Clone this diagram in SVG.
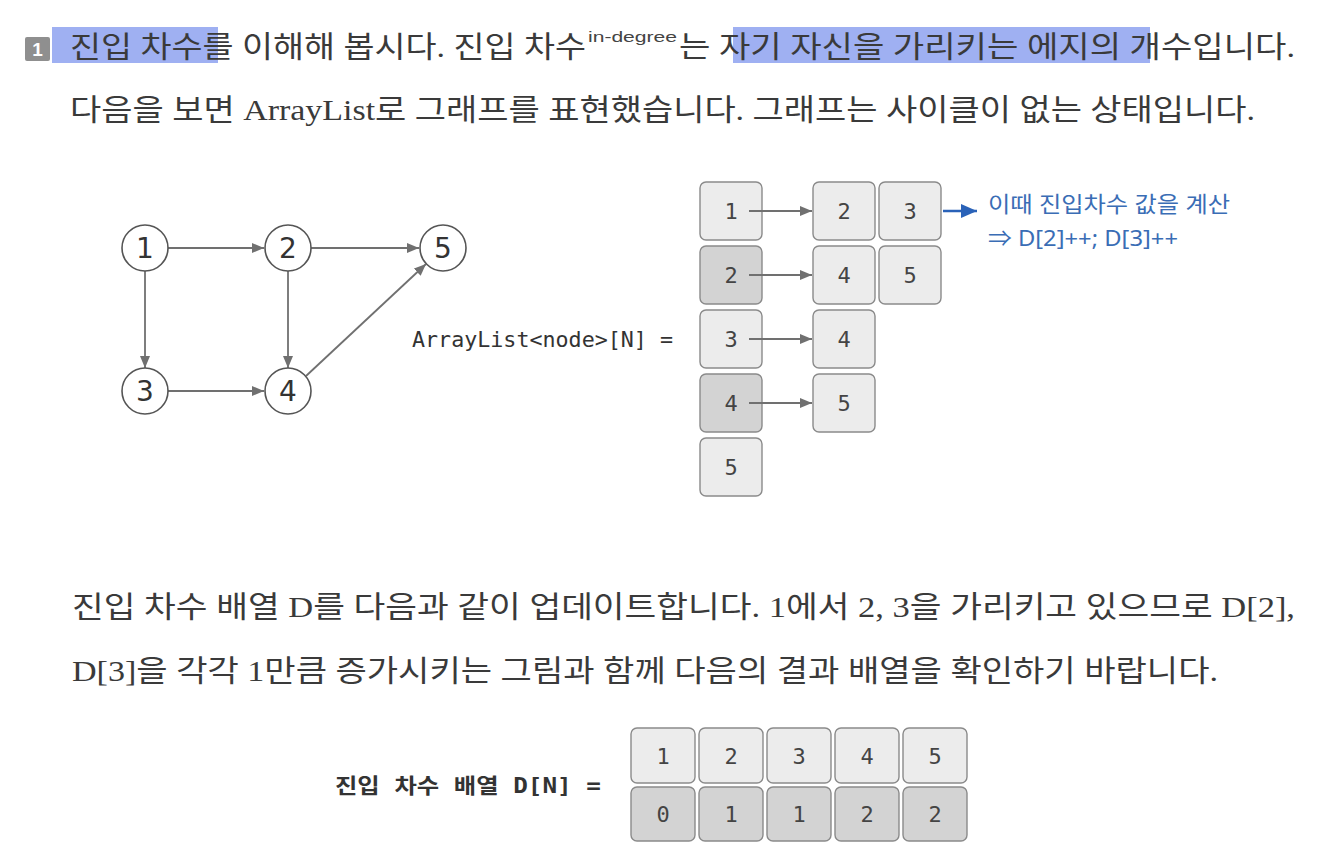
<svg xmlns="http://www.w3.org/2000/svg" width="1328" height="858" viewBox="0 0 1328 858">
<style>
.body{font-family:"Liberation Serif","Noto Sans CJK KR",serif;font-size:30px;fill:#3a3a3a}
.node circle{fill:#fff;stroke:#555;stroke-width:1.6}
.node text{font-family:"DejaVu Sans","Noto Sans",sans-serif;font-size:28px;fill:#333;text-anchor:middle}
.edge{stroke:#707070;stroke-width:1.8;fill:none}
.cell rect{stroke:#8a8a8a;stroke-width:1.4;rx:6}
.cell text{font-family:"DejaVu Sans Mono",monospace;font-size:22px;fill:#444;text-anchor:middle}
.lt{fill:#ececec}
.dk{fill:#d3d3d3}
.mono{font-family:"DejaVu Sans Mono","Noto Sans CJK KR",monospace;font-size:21px;fill:#333}
.blue{font-family:"Noto Sans","Noto Sans CJK KR",sans-serif;font-size:22px;fill:#3a6db5}
</style>
<defs>
<marker id="ah" viewBox="0 0 12 10" refX="12" refY="5" markerWidth="12" markerHeight="10" markerUnits="userSpaceOnUse" orient="auto">
<path d="M0,0 L12,5 L0,10 z" fill="#707070"/>
</marker>
<marker id="ahb" viewBox="0 0 16 14" refX="16" refY="7" markerWidth="16" markerHeight="14" markerUnits="userSpaceOnUse" orient="auto">
<path d="M0,0 L16,7 L0,14 z" fill="#2a62b8"/>
</marker>
</defs>
<rect width="1328" height="858" fill="#fff"/>

<!-- header text -->
<g id="header">
<rect x="25" y="37" width="25" height="24" rx="2" fill="#8f8f8f"/>
<text x="37.5" y="56" font-family="Liberation Sans,sans-serif" font-size="19" font-weight="bold" fill="#fff" text-anchor="middle">1</text>
<rect x="52" y="27" width="166" height="36" fill="#7f96ee" fill-opacity="0.75"/>
<rect x="733" y="27" width="417" height="36" fill="#7f96ee" fill-opacity="0.75"/>
<text class="body" x="70" y="57" textLength="516" lengthAdjust="spacingAndGlyphs">진입 차수를 이해해 봅시다. 진입 차수</text>
<text x="588" y="42" font-family="Liberation Sans,sans-serif" font-size="14" fill="#444" textLength="89" lengthAdjust="spacingAndGlyphs">in-degree</text>
<text class="body" x="679" y="57" textLength="616" lengthAdjust="spacingAndGlyphs">는 자기 자신을 가리키는 에지의 개수입니다.</text>
<text class="body" x="70" y="120" textLength="1185" lengthAdjust="spacingAndGlyphs">다음을 보면 ArrayList로 그래프를 표현했습니다. 그래프는 사이클이 없는 상태입니다.</text>
</g>

<!-- graph connectors -->
<g id="graph-edges">
<line class="edge" x1="168" y1="248" x2="264" y2="248" marker-end="url(#ah)"/>
<line class="edge" x1="311" y1="248" x2="419" y2="248" marker-end="url(#ah)"/>
<line class="edge" x1="145" y1="271" x2="145" y2="368" marker-end="url(#ah)"/>
<line class="edge" x1="288" y1="271" x2="288" y2="368" marker-end="url(#ah)"/>
<line class="edge" x1="168" y1="391" x2="264" y2="391" marker-end="url(#ah)"/>
<line class="edge" x1="306" y1="376" x2="426" y2="264" marker-end="url(#ah)"/>
</g>
<g id="n1" class="node"><circle cx="145" cy="248" r="23"/><text x="145" y="258">1</text></g>
<g id="n2" class="node"><circle cx="288" cy="248" r="23"/><text x="288" y="258">2</text></g>
<g id="n5" class="node"><circle cx="443" cy="248" r="23"/><text x="443" y="258">5</text></g>
<g id="n3" class="node"><circle cx="145" cy="391" r="23"/><text x="145" y="401">3</text></g>
<g id="n4" class="node"><circle cx="288" cy="391" r="23"/><text x="288" y="401">4</text></g>

<!-- adjacency list -->
<text id="arraylist-label" class="mono" x="412" y="347" textLength="261" lengthAdjust="spacingAndGlyphs">ArrayList&lt;node&gt;[N] =</text>
<g id="list-col1">
<g class="cell"><rect class="lt" x="700" y="182" width="62" height="58"/><text x="731" y="219">1</text></g>
<g class="cell"><rect class="dk" x="700" y="246" width="62" height="58"/><text x="731" y="283">2</text></g>
<g class="cell"><rect class="lt" x="700" y="310" width="62" height="58"/><text x="731" y="347">3</text></g>
<g class="cell"><rect class="dk" x="700" y="374" width="62" height="58"/><text x="731" y="411">4</text></g>
<g class="cell"><rect class="lt" x="700" y="438" width="62" height="58"/><text x="731" y="475">5</text></g>
</g>
<g id="list-items">
<g class="cell"><rect class="lt" x="813" y="182" width="62" height="58"/><text x="844" y="219">2</text></g>
<g class="cell"><rect class="lt" x="879" y="182" width="62" height="58"/><text x="910" y="219">3</text></g>
<g class="cell"><rect class="lt" x="813" y="246" width="62" height="58"/><text x="844" y="283">4</text></g>
<g class="cell"><rect class="lt" x="879" y="246" width="62" height="58"/><text x="910" y="283">5</text></g>
<g class="cell"><rect class="lt" x="813" y="310" width="62" height="58"/><text x="844" y="347">4</text></g>
<g class="cell"><rect class="lt" x="813" y="374" width="62" height="58"/><text x="844" y="411">5</text></g>
</g>
<g id="list-edges">
<line class="edge" x1="749" y1="211" x2="812" y2="211" marker-end="url(#ah)"/>
<line class="edge" x1="749" y1="275" x2="812" y2="275" marker-end="url(#ah)"/>
<line class="edge" x1="749" y1="339" x2="812" y2="339" marker-end="url(#ah)"/>
<line class="edge" x1="749" y1="403" x2="812" y2="403" marker-end="url(#ah)"/>
<line x1="943" y1="211" x2="977" y2="211" stroke="#2a62b8" stroke-width="2.5" marker-end="url(#ahb)"/>
</g>
<g id="note">
<text class="blue" x="988" y="212" textLength="242" lengthAdjust="spacingAndGlyphs">이때 진입차수 값을 계산</text>
<text class="blue" x="988" y="246" textLength="190" lengthAdjust="spacingAndGlyphs">⇒ D[2]++; D[3]++</text>
</g>

<!-- lower text -->
<g id="lower-text">
<text class="body" x="72" y="617" textLength="1223" lengthAdjust="spacingAndGlyphs">진입 차수 배열 D를 다음과 같이 업데이트합니다. 1에서 2, 3을 가리키고 있으므로 D[2],</text>
<text class="body" x="72" y="681" textLength="1146" lengthAdjust="spacingAndGlyphs">D[3]을 각각 1만큼 증가시키는 그림과 함께 다음의 결과 배열을 확인하기 바랍니다.</text>
</g>

<!-- in-degree array -->
<text id="darray-label" class="mono" x="335" y="793" textLength="266" lengthAdjust="spacingAndGlyphs" font-weight="bold">진입 차수 배열 D[N] =</text>
<g id="darray-index">
<g class="cell"><rect class="lt" x="631" y="728" width="64" height="55"/><text x="663" y="764">1</text></g>
<g class="cell"><rect class="lt" x="699" y="728" width="64" height="55"/><text x="731" y="764">2</text></g>
<g class="cell"><rect class="lt" x="767" y="728" width="64" height="55"/><text x="799" y="764">3</text></g>
<g class="cell"><rect class="lt" x="835" y="728" width="64" height="55"/><text x="867" y="764">4</text></g>
<g class="cell"><rect class="lt" x="903" y="728" width="64" height="55"/><text x="935" y="764">5</text></g>
</g>
<g id="darray-values">
<g class="cell"><rect class="dk" x="631" y="787" width="64" height="54"/><text x="663" y="822">0</text></g>
<g class="cell"><rect class="dk" x="699" y="787" width="64" height="54"/><text x="731" y="822">1</text></g>
<g class="cell"><rect class="dk" x="767" y="787" width="64" height="54"/><text x="799" y="822">1</text></g>
<g class="cell"><rect class="dk" x="835" y="787" width="64" height="54"/><text x="867" y="822">2</text></g>
<g class="cell"><rect class="dk" x="903" y="787" width="64" height="54"/><text x="935" y="822">2</text></g>
</g>
</svg>
